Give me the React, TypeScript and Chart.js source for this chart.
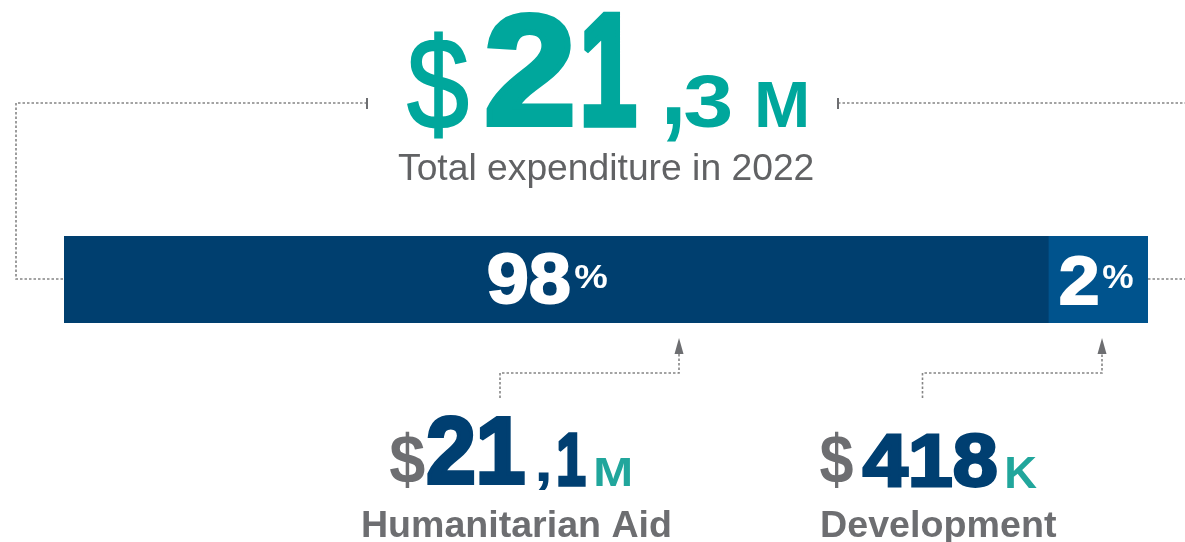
import React, { useEffect, useRef } from "react";
import { Chart, registerables } from "chart.js";

Chart.register(...registerables);

// ---- data ----
const categories = ["2022"];
const seriesNames = ["Humanitarian Aid", "Development"];
// displayed segment widths (share of bar as drawn in the picture)
const segmentDisplay = [90.8, 9.2];
const percentLabels = ["98", "2"];
const totalLabel = ["$", "2", "1", ",", "3", "M"];
const totalCaption = "Total expenditure in 2022";
const aidAmount = ["$", "21", ",", "1", "M"];
const devAmount = ["$", "418", "K"];

const NAVY_BAR = "#003F6F";
const BLUE_BAR = "#00538D";
const TEAL = "#00A79C";
const TEAL2 = "#21A69C";
const NAVY = "#003F71";
const GRAY = "#616264";
const GRAY2 = "#6D6E71";
const DOT = "#858585";
const FONT = '"Liberation Sans", Arial, sans-serif';

function fitBox(
  ctx: CanvasRenderingContext2D,
  text: string,
  weight: string,
  color: string,
  l: number,
  t: number,
  r: number,
  b: number,
  thick = 0
) {
  ctx.save();
  ctx.font = `${weight} 100px ${FONT}`;
  ctx.textAlign = "left";
  ctx.textBaseline = "alphabetic";
  const m = ctx.measureText(text);
  const inkW = m.actualBoundingBoxLeft + m.actualBoundingBoxRight;
  const inkH = m.actualBoundingBoxAscent + m.actualBoundingBoxDescent;
  const L = l + thick / 2,
    T = t + thick / 2,
    W = r - l - thick,
    H = b - t - thick;
  const sx = W / inkW,
    sy = H / inkH;
  ctx.translate(L, T);
  ctx.scale(sx, sy);
  ctx.fillStyle = color;
  ctx.fillText(text, m.actualBoundingBoxLeft, m.actualBoundingBoxAscent);
  if (thick > 0) {
    ctx.strokeStyle = color;
    ctx.lineJoin = "miter";
    ctx.miterLimit = 2;
    ctx.lineWidth = thick / Math.sqrt(sx * sy);
    ctx.strokeText(text, m.actualBoundingBoxLeft, m.actualBoundingBoxAscent);
  }
  ctx.restore();
}

function fitLine(
  ctx: CanvasRenderingContext2D,
  text: string,
  weight: string,
  color: string,
  l: number,
  r: number,
  baseline: number,
  size: number
) {
  ctx.save();
  ctx.font = `${weight} ${size}px ${FONT}`;
  ctx.textAlign = "left";
  ctx.textBaseline = "alphabetic";
  const m = ctx.measureText(text);
  const inkW = m.actualBoundingBoxLeft + m.actualBoundingBoxRight;
  const sx = (r - l) / inkW;
  ctx.translate(l, baseline);
  ctx.scale(sx, 1);
  ctx.fillStyle = color;
  ctx.fillText(text, m.actualBoundingBoxLeft, 0);
  ctx.restore();
}

function dotted(ctx: CanvasRenderingContext2D, pts: number[][]) {
  ctx.save();
  ctx.strokeStyle = DOT;
  ctx.lineWidth = 1.6;
  ctx.setLineDash([2.5, 2]);
  ctx.beginPath();
  ctx.moveTo(pts[0][0], pts[0][1]);
  for (let i = 1; i < pts.length; i++) ctx.lineTo(pts[i][0], pts[i][1]);
  ctx.stroke();
  ctx.restore();
}

function tick(ctx: CanvasRenderingContext2D, x: number, y1: number, y2: number) {
  ctx.save();
  ctx.strokeStyle = GRAY2;
  ctx.lineWidth = 2;
  ctx.beginPath();
  ctx.moveTo(x, y1);
  ctx.lineTo(x, y2);
  ctx.stroke();
  ctx.restore();
}

function arrowHead(ctx: CanvasRenderingContext2D, x: number, tip: number, base: number) {
  ctx.save();
  ctx.fillStyle = GRAY2;
  ctx.beginPath();
  ctx.moveTo(x, tip);
  ctx.lineTo(x - 4.5, base);
  ctx.lineTo(x + 4.5, base);
  ctx.closePath();
  ctx.fill();
  ctx.restore();
}

const annotations = {
  id: "annotations",
  afterDraw(chart: any) {
    const ctx: CanvasRenderingContext2D = chart.ctx;
    const area = chart.chartArea;
    const midY = (area.top + area.bottom) / 2 - 0.5;

    // dotted connectors
    dotted(ctx, [[367, 103], [16, 103], [16, midY], [area.left, midY]]);
    dotted(ctx, [[838, 103], [1185, 103]]);
    dotted(ctx, [[area.right, midY], [1185, midY]]);
    tick(ctx, 367, 98, 109);
    tick(ctx, 838, 98, 109);

    dotted(ctx, [[500, 398], [500, 373], [679, 373], [679, 353]]);
    arrowHead(ctx, 679, 338, 354);
    dotted(ctx, [[922.5, 398], [922.5, 373], [1102, 373], [1102, 353]]);
    arrowHead(ctx, 1102, 338, 354);

    // headline total
    fitBox(ctx, totalLabel[0], "normal", TEAL, 407, 32, 468, 140, 2);
    fitBox(ctx, totalLabel[1], "bold", TEAL, 486, 12, 573, 127, 6);
    fitBox(ctx, totalLabel[2], "bold", TEAL, 583, 12, 637, 127, 6);
    fitBox(ctx, totalLabel[3], "bold", TEAL, 666, 107, 681, 142);
    fitBox(ctx, totalLabel[4], "bold", TEAL, 685, 76, 730, 128);
    fitBox(ctx, totalLabel[5], "bold", TEAL, 758, 81, 806, 127);
    fitLine(ctx, totalCaption, "normal", GRAY, 398, 813, 180, 36.5);

    // percentages in bar
    fitBox(ctx, percentLabels[0], "bold", "#ffffff", 488, 253, 570, 305, 2);
    fitBox(ctx, "%", "bold", "#ffffff", 575, 265, 607, 288);
    fitBox(ctx, percentLabels[1], "bold", "#ffffff", 1060, 255, 1098, 305, 2);
    fitBox(ctx, "%", "bold", "#ffffff", 1103, 264, 1133, 288);

    // humanitarian aid
    fitBox(ctx, aidAmount[0], "bold", GRAY2, 390, 432, 425, 488);
    fitBox(ctx, aidAmount[1], "bold", NAVY, 427, 415, 525, 485, 4);
    fitBox(ctx, aidAmount[2], "bold", NAVY, 538, 472, 549, 490);
    fitBox(ctx, aidAmount[3], "bold", NAVY, 558, 432, 586, 486, 3);
    fitBox(ctx, aidAmount[4], "bold", TEAL2, 596, 458, 630, 486);
    fitLine(ctx, seriesNames[0], "bold", GRAY2, 363, 670, 537, 37.5);

    // development
    fitBox(ctx, devAmount[0], "bold", GRAY2, 820, 432, 853, 488);
    fitBox(ctx, devAmount[1], "bold", NAVY, 862, 433, 997, 488, 3);
    fitBox(ctx, devAmount[2], "bold", TEAL2, 1007, 457, 1037, 488);
    fitLine(ctx, seriesNames[1], "bold", GRAY2, 822, 1057, 537, 37.5);
  },
};

export default function App() {
  const ref = useRef<HTMLCanvasElement | null>(null);
  useEffect(() => {
    if (!ref.current) return;
    const chart = new Chart(ref.current, {
      type: "bar",
      data: {
        labels: categories,
        datasets: [
          {
            label: seriesNames[0],
            data: [segmentDisplay[0]],
            backgroundColor: NAVY_BAR,
            borderWidth: 0,
            barPercentage: 1,
            categoryPercentage: 1,
          },
          {
            label: seriesNames[1],
            data: [segmentDisplay[1]],
            backgroundColor: BLUE_BAR,
            borderWidth: 0,
            barPercentage: 1,
            categoryPercentage: 1,
          },
        ],
      },
      options: {
        indexAxis: "y",
        responsive: false,
        animation: false,
        layout: { padding: { left: 64, right: 37, top: 236, bottom: 219 } },
        plugins: { legend: { display: false }, tooltip: { enabled: false } },
        scales: {
          x: { stacked: true, min: 0, max: 100, display: false },
          y: { stacked: true, display: false },
        },
      },
      plugins: [annotations],
    });
    return () => chart.destroy();
  }, []);
  return (
    <div style={{ position: "fixed", left: 0, top: 0, width: 1185, height: 542, background: "#fff" }}>
      <canvas ref={ref} width={1185} height={542} style={{ display: "block" }} />
    </div>
  );
}
